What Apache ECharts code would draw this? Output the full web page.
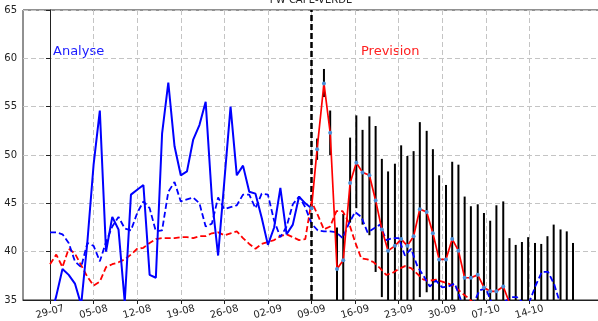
<!DOCTYPE html>
<html>
<head>
<meta charset="utf-8">
<script src="https://cdn.jsdelivr.net/npm/echarts@6/dist/echarts.min.js"></script>
<style>
html,body{margin:0;padding:0;background:#fff;}
#chart{width:598px;height:321px;}
</style>
</head>
<body>
<div id="chart"></div>
<script>
// Day offsets are counted from 29-07 (day 0)
const tickDays = [0, 7, 14, 21, 28, 35, 42, 49, 56, 63, 70, 77];
const tickLabels = ['29-07', '05-08', '12-08', '19-08', '26-08', '02-09', '09-09', '16-09', '23-09', '30-09', '07-10', '14-10'];

// Analysis (blue solid), one value per day from day 0
const analysisPW = [33.0, 35.4, 38.2, 37.6, 36.7, 34.5, 41.0, 49.0, 54.6, 40.0, 43.6, 42.3, 34.8, 45.9, 46.4, 46.9, 37.6, 37.3, 52.2, 57.5,
  50.9, 47.9, 48.3, 51.6, 53.1, 55.5, 45.5, 39.6, 47.3, 55.0, 47.9, 48.9, 46.2, 46.0, 43.5, 40.7, 42.5, 46.6, 41.8, 42.8, 45.7, 45.0, 44.5];

// Blue dashed reference, one value per day from day 0
const blueDashed = [42.0, 42.0, 41.8, 40.9, 39.0, 38.4, 40.9, 40.6, 39.0, 41.0, 42.6, 43.6, 42.4, 42.2, 44.0, 45.2, 44.5, 42.1, 42.2, 46.2,
  47.2, 45.2, 45.4, 45.6, 45.0, 42.6, 42.9, 45.6, 44.4, 44.6, 44.8, 45.9, 45.9, 44.5, 46.0, 45.9, 43.2, 41.5, 42.6, 44.9, 45.7, 44.6, 42.9,
  42.2, 42.1, 42.1, 42.0, 41.4, 42.9, 44.1, 43.6, 42.0, 42.4, 42.8, 41.2, 41.4, 41.4, 39.6, 40.3, 38.5, 37.5, 36.4, 37.0,
  36.3, 36.4, 36.7, 35.0, 34.5, 34.6, 36.0, 36.2, 34.6, 34.5, 34.8, 35.3, 35.3, 34.7, 34.8, 36.5, 37.9, 37.9, 36.6, 34.5];

// Red dashed reference, one value per day from day 0
const redDashed = [38.7, 39.7, 38.4, 40.3, 39.8, 38.6, 37.4, 36.5, 36.9, 38.4, 38.7, 38.9, 39.2, 39.7, 40.3, 40.4, 40.9, 41.3, 41.4, 41.4,
  41.4, 41.5, 41.5, 41.4, 41.6, 41.6, 41.9, 42.0, 41.7, 41.9, 42.1, 41.4, 40.8, 40.3, 40.8, 41.0, 41.2, 41.6, 41.8, 41.5, 41.2, 41.3,
  45.2, 43.8, 42.3, 42.6, 44.2, 44.2, 43.0, 41.0, 39.3, 39.2, 38.9, 38.3, 37.6, 37.8, 38.2, 38.5, 38.3, 37.7, 37.1, 37.0, 37.1,
  36.9, 36.7, 36.4, 35.8, 35.3, 34.7, 34.4, 34.2];

// Forecast steps (day positions)
const forecastDays = [42.0, 42.9, 44.0, 45.0, 46.1, 47.1, 48.2, 49.2, 50.2, 51.3, 52.3, 53.3, 54.3, 55.4, 56.4, 57.4, 58.4, 59.4, 60.5, 61.5,
  62.5, 63.6, 64.6, 65.6, 66.6, 67.6, 68.7, 69.7, 70.7, 71.7, 72.8, 73.8, 74.8, 75.8, 76.8, 77.9, 78.9, 79.9, 80.9, 82.0, 83.0, 84.0];
const forecastPW = [44.5, 50.6, 57.4, 52.3, 38.2, 39.1, 47.1, 49.2, 48.2, 47.9, 45.3, 42.3, 40.1, 40.6, 41.3, 40.6, 41.6, 44.4, 44.1, 41.9,
  39.2, 39.2, 41.3, 40.1, 37.3, 37.3, 37.6, 36.3, 35.9, 35.9, 36.4, 34.7, 34.2];
const spreadHigh = [null, 51.7, 58.9, 54.6, 42.5, 43.9, 51.8, 54.1, 52.6, 54.0, 53.0, 49.6, 48.3, 49.1, 51.0, 49.9, 50.4, 53.4, 52.5, 50.6,
  47.9, 46.9, 49.3, 49.0, 45.7, 44.7, 44.9, 44.0, 43.2, 44.8, 45.2, 41.4, 40.7, 41.0, 41.5, 40.9, 40.8, 41.6, 42.8, 42.3, 42.1, 40.9];
const spreadLow = [null, 49.5, 56.0, 50.0, 34, 34, 43.0, 44.5, 42.8, 41.7, 37.9, 35.3, 34, 34, 34, 34, 34, 35.3, 35.8, 34,
  34, 34, 34, 34, 34, 34, 34, 34, 34, 34, 34, 34, 34, 34, 34, 34, 34, 34, 34, 34, 34, 34];
const forecastStartDay = 42;

const FONT = 'DejaVu Sans';
const chart = echarts.init(document.getElementById('chart'), null, {renderer: 'canvas'});

const spreadData = [];
forecastDays.forEach((d, i) => { if (spreadHigh[i] != null) spreadData.push([d, spreadLow[i], spreadHigh[i]]); });

const option = {
  animation: false,
  backgroundColor: '#fff',
  grid: {left: 23, right: -2, top: 10, bottom: 21, show: true, borderColor: '#222', borderWidth: 1,
    backgroundColor: 'transparent', containLabel: false, outerBoundsMode: 'none'},
  xAxis: {
    type: 'value', min: -4.34, max: 88.34,
    axisLine: {show: true, lineStyle: {color: '#222', width: 1}},
    axisTick: {show: true, customValues: tickDays, length: 4, lineStyle: {color: '#222'}},
    axisLabel: {
      customValues: tickDays, rotate: 15, fontSize: 10, fontFamily: FONT, color: '#222', margin: 12,
      align: 'center', verticalAlign: 'middle',
      formatter: v => { const k = tickDays.indexOf(Math.round(v)); return k >= 0 ? tickLabels[k] : ''; }
    },
    splitLine: {show: true, lineStyle: {color: '#c4c4c4', type: [5, 3], width: 1}}
  },
  yAxis: {
    type: 'value', min: 35, max: 65, interval: 5,
    name: 'mm', nameLocation: 'middle', nameGap: 19, nameTextStyle: {fontSize: 10, fontFamily: FONT, color: '#222'},
    axisLine: {show: true, lineStyle: {color: '#222', width: 1}},
    axisTick: {show: true, length: 4, lineStyle: {color: '#222'}},
    axisLabel: {fontSize: 10, fontFamily: FONT, color: '#222', margin: 6},
    splitLine: {show: true, lineStyle: {color: '#c4c4c4', type: [5, 3], width: 1}}
  },
  series: [
    {
      type: 'custom', name: 'spread', data: spreadData, encode: {x: 0, y: [1, 2]},
      renderItem: function (params, api) {
        const x = api.value(0), lo = api.value(1), hi = api.value(2);
        const p1 = api.coord([x, hi]), p2 = api.coord([x, lo]);
        const cs = params.coordSys;
        const yt = Math.max(p1[1], cs.y), yb = Math.min(p2[1], cs.y + cs.height);
        return {type: 'line', shape: {x1: p1[0], y1: yt, x2: p2[0], y2: yb}, style: {stroke: '#000', lineWidth: 2}};
      },
      z: 2
    },
    {
      type: 'line', name: 'redDashed', data: redDashed.map((v, i) => [i, v]), symbol: 'none', clip: true,
      lineStyle: {color: '#ff0000', width: 1.8, type: [6, 3]}, z: 3
    },
    {
      type: 'line', name: 'blueDashed', data: blueDashed.map((v, i) => [i, v]), symbol: 'none', clip: true,
      lineStyle: {color: '#0000ff', width: 1.8, type: [6, 3]}, z: 3
    },
    {
      type: 'line', name: 'analysis', data: analysisPW.map((v, i) => [i, v]), symbol: 'none', clip: true,
      lineStyle: {color: '#0000ff', width: 2}, z: 4,
      markLine: {
        silent: true, symbol: 'none', label: {show: false},
        lineStyle: {color: '#000', type: [6, 3], width: 2.5},
        data: [{xAxis: forecastStartDay}]
      }
    },
    {
      type: 'line', name: 'forecast', data: forecastPW.map((v, i) => [forecastDays[i], v]), clip: true,
      symbol: 'circle', symbolSize: 4, showAllSymbol: true,
      itemStyle: {color: '#4a90d9', borderWidth: 0},
      lineStyle: {color: '#ff0000', width: 1.7}, z: 5
    }
  ],
  graphic: [
    {type: 'text', x: 311, y: -5, z: 100, style: {text: 'PW CAPE-VERDE', font: '10px "DejaVu Sans"', fill: '#222', align: 'center', verticalAlign: 'top'}},
    {type: 'text', x: 53, y: 45, style: {text: 'Analyse', font: '13px "DejaVu Sans"', fill: '#1a1aff'}},
    {type: 'text', x: 361, y: 45, style: {text: 'Prevision', font: '13px "DejaVu Sans"', fill: '#ff2020'}}
  ]
};
chart.setOption(option);
</script>
</body>
</html>
